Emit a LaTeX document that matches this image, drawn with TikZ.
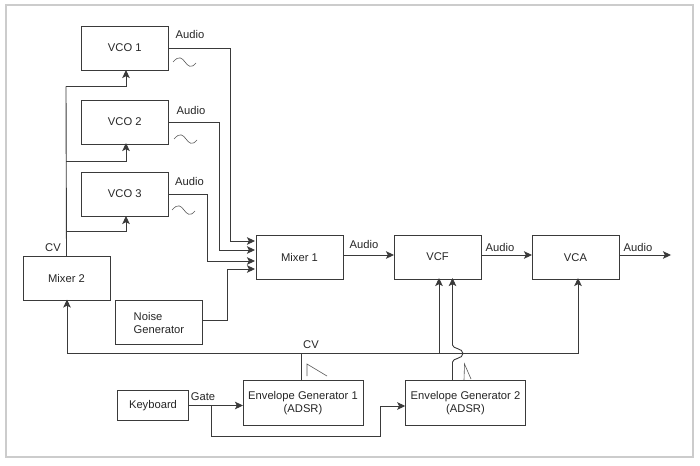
\documentclass[tikz,border=0pt]{standalone}
\usepackage{fontspec}
\setmainfont{Liberation Sans}
\usetikzlibrary{arrows.meta}
\definecolor{ink}{HTML}{3A3A3A}
\tikzset{
  blk/.style={draw=ink,line width=0.9pt,inner sep=0pt,outer sep=0pt,align=center,text=black!85,font=\fontsize{11.2}{13}\selectfont},
  lbl/.style={text=black!85,inner sep=0pt,font=\fontsize{11.2}{13}\selectfont},
  wire/.style={draw=ink,line width=0.9pt,line join=miter},
  arr/.style={wire,-{Stealth[length=8pt,width=7.5pt,inset=1.8pt]}},
  thin wave/.style={draw=black!65,line width=0.6pt}
}
\begin{document}
\begin{tikzpicture}[x=1pt,y=-1pt]
\useasboundingbox (0,0) rectangle (700,465);
\fill[white] (0,0) rectangle (700,465);
\draw[draw=black!20,line width=1.2pt,fill=white] (6,5) rectangle (693,457);
% blocks
\node[blk,minimum width=86.5pt,minimum height=44pt] (vco1) at (124.75,48) {VCO 1};
\node[blk,minimum width=86.5pt,minimum height=44pt] (vco2) at (124.75,122) {VCO 2};
\node[blk,minimum width=86.5pt,minimum height=44pt] (vco3) at (124.75,194) {VCO 3};
\node[blk,minimum width=87pt,minimum height=44pt] (mix2) at (66.5,278) {Mixer 2};
\node[blk,minimum width=87pt,minimum height=44pt] (noise) at (158.5,322) {};
\node[lbl,align=left,anchor=west] (noiset) at (133.5,322.5) {Noise\\Generator};
\node[blk,minimum width=87pt,minimum height=44pt] (mix1) at (299.5,257) {Mixer 1};
\node[blk,minimum width=87pt,minimum height=44pt] (vcf) at (437.5,257) {VCF};
\node[blk,minimum width=87pt,minimum height=44pt] (vca) at (575.5,257.5) {VCA};
\node[blk,minimum width=71pt,minimum height=30pt] (kbd) at (153,405.5) {Keyboard};
\node[blk,minimum width=120pt,minimum height=45pt] (eg1) at (303,403) {Envelope Generator 1\\(ADSR)};
\node[blk,minimum width=120.5pt,minimum height=45pt] (eg2) at (465.5,403) {Envelope Generator 2\\(ADSR)};
% labels
\node[lbl] (a1) at (190,34) {Audio};
\node[lbl] (a2) at (191,110) {Audio};
\node[lbl] (a3) at (189.5,181) {Audio};
\node[lbl] (a4) at (364,244) {Audio};
\node[lbl] (a5) at (500,247) {Audio};
\node[lbl] (a6) at (638,247) {Audio};
\node[lbl] (cv1) at (53,248) {CV};
\node[lbl] (cv2) at (311,345) {CV};
\node[lbl] (gate) at (203,397) {Gate};
% waypoints
\coordinate (j1) at (230.5,48);
\coordinate (k1) at (230.5,241);
\coordinate (m1) at (255,241);
\coordinate (j2) at (219,122);
\coordinate (k2) at (219,250);
\coordinate (m2) at (255,250);
\coordinate (j3) at (207,194);
\coordinate (k3) at (207,261);
\coordinate (m3) at (255,261);
\coordinate (j4) at (227,320);
\coordinate (k4) at (227,269);
\coordinate (m4) at (255,269);
\coordinate (t1) at (66,86.5);
\coordinate (u1) at (126,86.5);
\coordinate (t2) at (66,161);
\coordinate (u2) at (126,161);
\coordinate (t3) at (66,231);
\coordinate (u3) at (126,231);
\coordinate (busl) at (67,353.5);
\coordinate (busm) at (301.5,353.5);
\coordinate (busf) at (439,353.5);
\coordinate (busr) at (578,353.5);
\coordinate (g1) at (211,405.5);
\coordinate (g2) at (211,436);
\coordinate (g3) at (380,436);
\coordinate (g4) at (380,406);
% VCO outputs to mixer 1
\draw[arr] (vco1.east) -- (j1) -- (k1) -- (m1);
\draw[arr] (vco2.east) -- (j2) -- (k2) -- (m2);
\draw[arr] (vco3.east) -- (j3) -- (k3) -- (m3);
\draw[arr] (noise.east |- j4) -- (j4) -- (k4) -- (m4);
% CV from mixer 2
\draw[wire] (mix2.north) -- (t1);
\draw[arr] (t1) -- (u1) -- ([xshift=1.25pt]vco1.south);
\draw[arr] (t2) -- (u2) -- ([xshift=1.25pt,yshift=1pt]vco2.south);
\draw[arr] (t3) -- (u3) -- ([xshift=1.25pt]vco3.south);
% audio chain
\draw[arr] (mix1.east |- 0,255) -- (vcf.west |- 0,255);
\draw[arr] (vcf.east |- 0,255) -- (vca.west |- 0,255);
\coordinate (out) at (671,255);
\draw[arr] (vca.east |- 0,255) -- (out);
% envelope 1 bus
\draw[wire] ([xshift=-1.5pt]eg1.north) -- (busm);
\draw[arr] (busm) -- (busl) -- ([xshift=0.5pt,yshift=0.5pt]mix2.south);
\draw[arr] (busm) -- (busr) -- ([xshift=2.5pt,yshift=1.5pt]vca.south);
\draw[arr] (busf) -- ([xshift=1.5pt,yshift=1pt]vcf.south);
% envelope 2 with hop
\draw[arr] ([xshift=-13pt]eg2.north) -- (452.5,362)
  .. controls (452.5,358) and (463,359) .. (463,353.5)
  .. controls (463,348) and (452.5,349) .. (452.5,345)
  -- ([xshift=15pt,yshift=1pt]vcf.south);
% gate
\draw[arr] (kbd.east) -- (eg1.west |- kbd.east);
\draw[arr] (g1) -- (g2) -- (g3) -- (g4) -- (eg2.west |- g4);
% waveforms
\draw[thin wave] (173,62) .. controls (179,55) and (182,58) .. (185,62) .. controls (188,66) and (191,69) .. (196,63);
\draw[thin wave] (174,139) .. controls (180,132) and (183,135) .. (186,139) .. controls (189,143) and (192,146) .. (197,140);
\draw[thin wave] (172,210) .. controls (178,203) and (181,206) .. (184,210) .. controls (187,214) and (190,217) .. (195,211);
\draw[thin wave] (307,376) -- (307,364) -- (327,376);
\draw[thin wave] (464,380) -- (464.5,364) -- (471,379);
\end{tikzpicture}
\end{document}
